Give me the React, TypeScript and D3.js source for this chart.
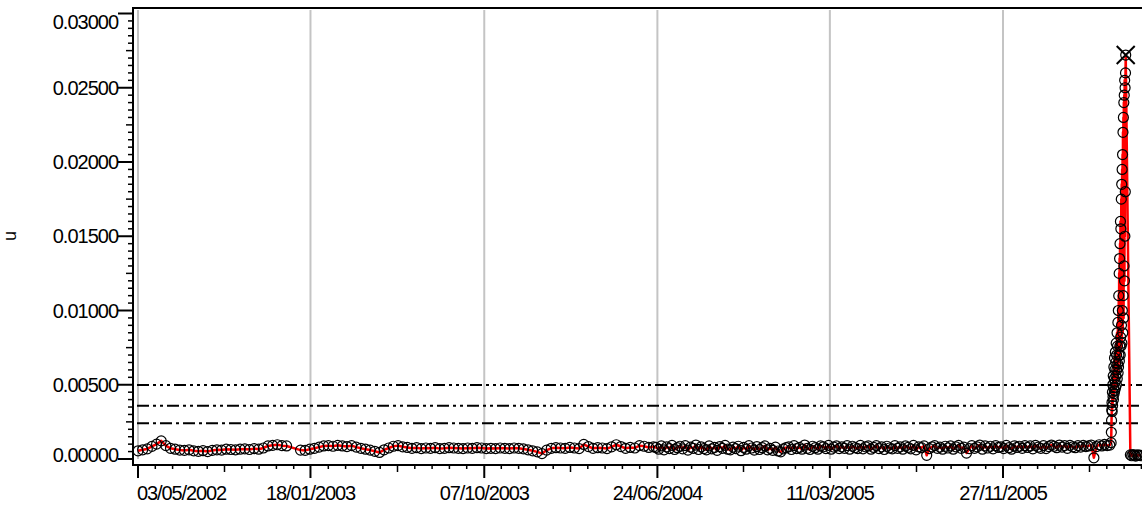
import * as d3 from 'd3';

// values are in units of 1e-5
const WEEKLY_START = '03/05/2002';
const WEEKLY_VALUES: (number | null)[] = [
  55, 62, 68, 85, 100, 122, 90, 72, 66, 60, 58, 62, 55, 52, 56,
  50, 58, 62, 60, 66, 64, 62, 66, 68, 64, 70, 66, 74,
  88, 92, 96, 90, 88, null, null,
  60, 58, 66, 72, 80, 88, 90, 86, 92, 88, 84, 90, 80, 72, 66, 60, 52, 44,
  62, 74, 86, 90, 82, 78, 72, 76,
  70, 74, 72, 76, 70, 72, 76, 74, 72, 70, 74, 72, 76, 74, 70,
  72, 70, 74, 72, 70, 74, 72, 68, 62, 55, 48, 36,
  60, 72, 76, 74, 72, 78, 74, 70, 98, 84, 72, 76, 74,
  70, 82, 96, 84, 72, 78, 74, 90, 86, 78, 82,
];

const DENSE_START = '22/06/2004';
const DENSE_VALUES: number[] = [
  78, 66, 88, 62, 82, 70, 92, 64, 76, 86,
  68, 90, 60, 80, 72, 94, 64, 82, 70, 62,
  88, 68, 78, 58, 84, 72, 92, 66, 62, 80,
  70, 86, 56, 78, 66, 90, 74, 60, 84, 64,
  76, 88, 62, 72, 58, 80, 54, 48, 68, 76,
  82, 64, 90, 70, 78, 66, 94, 72, 64, 86,
  76, 66, 88, 82, 70, 92, 66, 80, 88, 70,
  82, 72, 90, 66, 86, 76, 70, 92, 68, 82,
  88, 66, 78, 90, 70, 82, 64, 86, 74, 68,
  90, 72, 82, 66, 88, 78, 68, 92, 62, 82,
  76, 88, 25, 70, 82, 90, 72, 80, 66, 86,
  74, 88, 66, 82, 92, 72, 80, 40, 70, 90,
  72, 82, 94, 66, 88, 74, 86, 68, 90, 78,
  82, 70, 92, 76, 66, 88, 78, 86, 72, 90,
  78, 88, 68, 92, 80, 72, 90, 70, 84, 94,
  86, 76, 94, 80, 90, 72, 92, 82, 76, 90,
  80, 92, 84, 88, 94, 8, 84, 96, 88, 98,
  90, 94,
];

const SPIKE_START = '09/05/2006';
const SPIKE_END = '31/05/2006';
const SPIKE_VALUES: number[] = [
  110, 180, 260, 330,
  380, 320, 450, 360, 500, 420, 560, 400, 480, 620, 440, 540, 680, 460, 600,
  520, 720, 480, 650, 560, 780, 500, 700, 600, 850, 540, 760, 640, 920, 580,
  1000, 620, 1100, 700, 1250, 660, 1350, 760, 1450, 700, 1600, 820, 1550, 760,
  1750, 900, 1850, 780, 1950, 1000, 2050, 850, 2200, 1100, 2300, 950, 2400,
  1300, 2450, 1200, 2550, 1500, 2500, 1800, 2600, 2720,
];

const AFTER_START = '07/06/2006';
const AFTER_VALUES: number[] = [28, 22, 30, 25, 20, 28, 24, 26, 22];

const X_TICK_LABELS = ['03/05/2002', '18/01/2003', '07/10/2003', '24/06/2004', '11/03/2005', '27/11/2005'];
const Y_TICKS = [0, 0.005, 0.01, 0.015, 0.02, 0.025, 0.03];
const Y_TICK_LABELS = ['0.00000', '0.00500', '0.01000', '0.01500', '0.02000', '0.02500', '0.03000'];
const REF_LEVELS = [0.00498, 0.00359, 0.0024];
const REF_DASHES = ['12 4 3 4 3 4 3 4', '12 4 3 4 3 4', '12 4 3 4'];

const DAY = 86400000;
const parse = (s: string) => {
  const [d, m, y] = s.split('/').map(Number);
  return new Date(Date.UTC(y, m - 1, d));
};

type Pt = { date: Date; v: number };

function buildData(): Pt[] {
  const pts: Pt[] = [];
  const w0 = parse(WEEKLY_START).getTime();
  WEEKLY_VALUES.forEach((v, i) => {
    if (v != null) pts.push({ date: new Date(w0 + i * 7 * DAY), v: v * 1e-5 });
  });
  const d0 = parse(DENSE_START).getTime();
  DENSE_VALUES.forEach((v, i) => pts.push({ date: new Date(d0 + i * 4 * DAY), v: v * 1e-5 }));
  const s0 = parse(SPIKE_START).getTime();
  const s1 = parse(SPIKE_END).getTime();
  const n = SPIKE_VALUES.length;
  SPIKE_VALUES.forEach((v, i) =>
    pts.push({ date: new Date(s0 + ((s1 - s0) * i) / (n - 1)), v: v * 1e-5 })
  );
  const a0 = parse(AFTER_START).getTime();
  AFTER_VALUES.forEach((v, i) => pts.push({ date: new Date(a0 + i * 2 * DAY), v: v * 1e-5 }));
  return pts;
}

const W = 1142;
const H = 505;
const LEFT = 133;
const TOP = 8;
const BOTTOM = 465;
const FONT = '"Liberation Sans", Arial, sans-serif';

export default function App() {
  const data = buildData();
  const tickDates = X_TICK_LABELS.map(parse);
  const x = d3.scaleUtc().domain([tickDates[0], tickDates[tickDates.length - 1]]).range([138, 1003]);
  const y = d3.scaleLinear().domain([0, 0.03]).range([459, 13.5]);

  // minor x ticks: 10 per major interval, continued past the last label
  const t0 = tickDates[0].getTime();
  const minorStep = (tickDates[tickDates.length - 1].getTime() - t0) / 50;
  const xMinor: { px: number; len: number }[] = [];
  for (let k = 1; ; k++) {
    const px = x(new Date(t0 + k * minorStep));
    if (px > W) break;
    if (k % 10 === 0) continue;
    xMinor.push({ px, len: k % 5 === 0 ? 7 : 4 });
  }
  const yMinor = d3.range(1, 60).filter(k => k % 10 !== 0).map(k => ({ py: y(k * 0.0005), len: k % 5 === 0 ? 7 : 5 }));

  const line = d3.line<Pt>().x(d => x(d.date)).y(d => y(d.v));
  const maxPt = data.reduce((a, b) => (b.v > a.v ? b : a));

  return (
    <svg width={W} height={H} style={{ position: 'absolute', left: 0, top: 0, display: 'block', background: '#fff' }} fontFamily={FONT}>
      {/* grid */}
      {tickDates.map((d, i) => (
        <line key={'g' + i} x1={x(d)} x2={x(d)} y1={TOP + 2} y2={459} stroke="#c4c4c4" strokeWidth={2} />
      ))}
      {/* reference levels */}
      {REF_LEVELS.map((lv, i) => (
        <line key={'r' + i} x1={137} x2={W} y1={y(lv)} y2={y(lv)} stroke="#000" strokeWidth={2} strokeDasharray={REF_DASHES[i]} />
      ))}
      {/* series */}
      <path d={line(data) || ''} fill="none" stroke="#ff0000" strokeWidth={2.5} strokeLinejoin="round" />
      {data.map((d, i) => (
        <circle key={'c' + i} cx={x(d.date)} cy={y(d.v)} r={5} fill="none" stroke="#000" strokeWidth={1.2} />
      ))}
      <path
        transform={`translate(${x(maxPt.date)},${y(maxPt.v)})`}
        d="M-9,-9L9,9M-9,9L9,-9"
        stroke="#000"
        strokeWidth={2}
      />
      {/* frame */}
      <line x1={LEFT - 1} x2={W} y1={TOP} y2={TOP} stroke="#000" strokeWidth={2} />
      <line x1={LEFT} x2={LEFT} y1={TOP} y2={BOTTOM + 1} stroke="#000" strokeWidth={2} />
      <line x1={LEFT - 1} x2={W} y1={BOTTOM} y2={BOTTOM} stroke="#000" strokeWidth={2} />
      {/* y axis */}
      {Y_TICKS.map((t, i) => {
        const py = y(t);
        const base = Math.min(Math.max(py + 7, 29), 462);
        return (
          <g key={'y' + i}>
            <line x1={118} x2={LEFT} y1={py} y2={py} stroke="#000" strokeWidth={2} />
            <text x={118} y={base} textAnchor="end" fontSize={20} letterSpacing={-1} fill="#000">
              {Y_TICK_LABELS[i]}
            </text>
          </g>
        );
      })}
      {yMinor.map((m, i) => (
        <line key={'ym' + i} x1={LEFT - m.len} x2={LEFT} y1={m.py} y2={m.py} stroke="#000" strokeWidth={1.5} />
      ))}
      <text transform="translate(16,236) rotate(-90)" textAnchor="middle" fontSize={18} fill="#000">u</text>
      {/* x axis */}
      {tickDates.map((d, i) => (
        <g key={'x' + i}>
          <line x1={x(d)} x2={x(d)} y1={BOTTOM} y2={478} stroke="#000" strokeWidth={2} />
          <text
            x={i === 0 ? 137 : x(d)}
            y={500}
            textAnchor={i === 0 ? 'start' : 'middle'}
            fontSize={20}
            letterSpacing={-1.1}
            fill="#000"
          >
            {X_TICK_LABELS[i]}
          </text>
        </g>
      ))}
      {xMinor.map((m, i) => (
        <line key={'xm' + i} x1={m.px} x2={m.px} y1={BOTTOM} y2={BOTTOM + m.len} stroke="#000" strokeWidth={1.5} />
      ))}
    </svg>
  );
}
